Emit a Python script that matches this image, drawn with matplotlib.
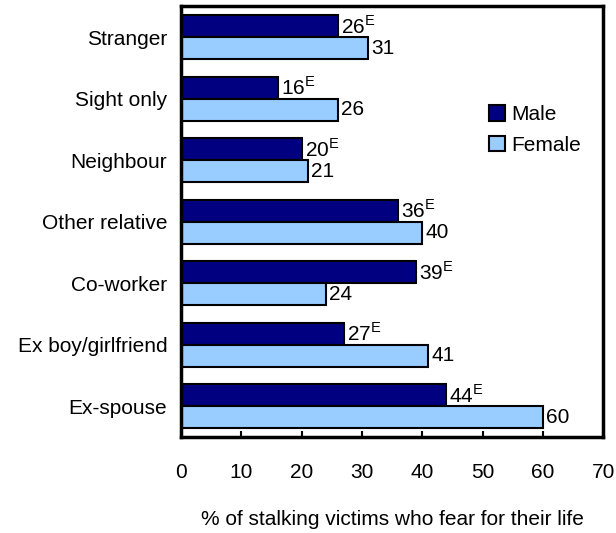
import matplotlib.pyplot as plt
import numpy as np

plt.rcParams['font.family'] = ['Liberation Sans', 'DejaVu Sans']
plt.rcParams['mathtext.fontset'] = 'custom'
plt.rcParams['mathtext.rm'] = 'Liberation Sans'

categories = ["Stranger", "Sight only", "Neighbour", "Other relative",
              "Co-worker", "Ex boy/girlfriend", "Ex-spouse"]
male = [26, 16, 20, 36, 39, 27, 44]
female = [31, 26, 21, 40, 24, 41, 60]
male_flag = ["E", "E", "E", "E", "E", "E", "E"]
xticks = [0, 10, 20, 30, 40, 50, 60, 70]

male_color = "#000080"
female_color = "#99CCFF"

fig = plt.figure(figsize=(6.16, 5.33), dpi=100)
ax = fig.add_axes([0.294, 0.180, 0.685, 0.808])

y = np.arange(len(categories))
h = 0.36
ax.barh(y - h / 2, male, height=h, color=male_color, edgecolor="black",
        linewidth=1.5, label="Male")
ax.barh(y + h / 2, female, height=h, color=female_color, edgecolor="black",
        linewidth=1.5, label="Female")

fs = 15
for i in range(len(categories)):
    ax.text(male[i] + 0.5, y[i] - h / 2, f"{male[i]}$^{{\\mathrm{{{male_flag[i]}}}}}$",
            va="center", ha="left", fontsize=fs)
    ax.text(female[i] + 0.5, y[i] + h / 2, f"{female[i]}",
            va="center", ha="left", fontsize=fs)

ax.set_xlim(0, 70)
ax.set_ylim(len(categories) - 0.5, -0.5)
ax.set_xticks(xticks)
ax.set_yticks(y)
ax.set_yticklabels(categories, fontsize=fs)
ax.tick_params(axis="x", direction="in", length=4, width=1.5, pad=19, labelsize=fs)
ax.tick_params(axis="y", length=0, pad=10)
for s in ax.spines.values():
    s.set_linewidth(2.5)

ax.set_xlabel("% of stalking victims who fear for their life", fontsize=fs, labelpad=20)

ax.legend(loc="upper left", bbox_to_anchor=(0.71, 0.79), frameon=False,
          fontsize=fs, handlelength=0.75, handleheight=0.75, handletextpad=0.3,
          labelspacing=0.55, borderaxespad=0)

fig.savefig("out.png", dpi=100)
